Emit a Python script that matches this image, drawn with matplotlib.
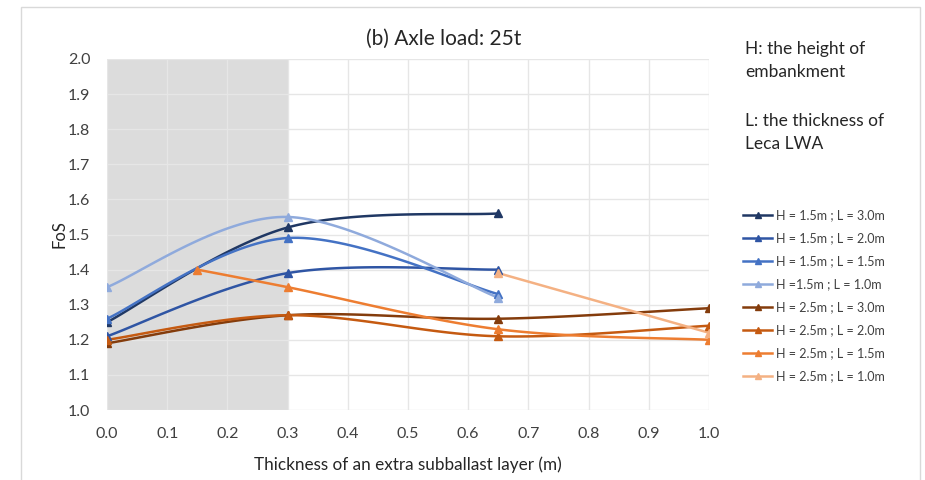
import numpy as np
import matplotlib
matplotlib.use("Agg")
import matplotlib.pyplot as plt
from matplotlib.patches import Rectangle

plt.rcParams['font.family'] = ['Lato', 'DejaVu Sans']

# ---- data ----
x_h15 = [0.0, 0.3, 0.65]
fos_h15_l30 = [1.25, 1.52, 1.56]
fos_h15_l20 = [1.21, 1.39, 1.40]
fos_h15_l15 = [1.26, 1.49, 1.33]
fos_h15_l10 = [1.35, 1.55, 1.32]

x_h25 = [0.0, 0.3, 0.65, 1.0]
fos_h25_l30 = [1.19, 1.27, 1.26, 1.29]
fos_h25_l20 = [1.20, 1.27, 1.21, 1.24]
x_h25_l15 = [0.15, 0.3, 0.65, 1.0]
fos_h25_l15 = [1.40, 1.35, 1.23, 1.20]
x_h25_l10 = [0.65, 1.0]
fos_h25_l10 = [1.39, 1.22]

labels = ["H = 1.5m ; L = 3.0m", "H = 1.5m ; L = 2.0m", "H = 1.5m ; L = 1.5m",
          "H =1.5m ; L = 1.0m", "H = 2.5m ; L = 3.0m", "H = 2.5m ; L = 2.0m",
          "H = 2.5m ; L = 1.5m", "H = 2.5m ; L = 1.0m"]
colors = ["#203864", "#2f55a4", "#4472c4", "#8faadc",
          "#843c0c", "#c55a11", "#ed7d31", "#f4b183"]
series = [(x_h15, fos_h15_l30), (x_h15, fos_h15_l20), (x_h15, fos_h15_l15),
          (x_h15, fos_h15_l10), (x_h25, fos_h25_l30), (x_h25, fos_h25_l20),
          (x_h25_l15, fos_h25_l15), (x_h25_l10, fos_h25_l10)]

x_ticks = [round(0.1 * i, 1) for i in range(11)]
y_ticks = [round(1.0 + 0.1 * i, 1) for i in range(11)]
shade_range = (0.0, 0.3)


def smooth(xs, ys, n=40):
    """Excel-like smoothed line (cubic Bezier with Catmull-Rom control points)."""
    P = np.column_stack([xs, ys]).astype(float)
    if len(P) < 3:
        return P[:, 0], P[:, 1]
    ext = np.vstack([P[0], P, P[-1]])
    out = []
    t = np.linspace(0, 1, n)[:, None]
    for i in range(len(P) - 1):
        p0, p1, p2, p3 = ext[i], ext[i + 1], ext[i + 2], ext[i + 3]
        c1 = p1 + (p2 - p0) / 6
        c2 = p2 - (p3 - p1) / 6
        seg = ((1 - t) ** 3) * p1 + 3 * ((1 - t) ** 2) * t * c1 + 3 * (1 - t) * t ** 2 * c2 + t ** 3 * p2
        out.append(seg if i == 0 else seg[1:])
    out = np.vstack(out)
    return out[:, 0], out[:, 1]


fig = plt.figure(figsize=(9.25, 4.8), dpi=100)
fig.patches.append(Rectangle((21 / 925, -0.05), (920 - 21) / 925, 1.05 - 7 / 480,
                             transform=fig.transFigure, fill=False,
                             edgecolor='#d9d9d9', linewidth=1.0))

ax = fig.add_axes([107 / 925, 1 - 410 / 480, (709 - 107) / 925, (410 - 59) / 480])
ax.axvspan(*shade_range, color='#dcdcdc', zorder=0, linewidth=0)
ax.set_xlim(0, 1.0)
ax.set_ylim(1.0, 2.0)
ax.set_xticks(x_ticks)
ax.set_yticks(y_ticks)
ax.set_xticklabels([f"{v:.1f}" for v in x_ticks])
ax.set_yticklabels([f"{v:.1f}" for v in y_ticks])
ax.grid(True, color='#e6e6e6', linewidth=1.0, zorder=0.5)
ax.set_axisbelow(True)
for s in ax.spines.values():
    s.set_visible(False)
ax.tick_params(length=0, labelsize=11.5, colors='#404040')
ax.tick_params(axis='x', pad=12)
ax.tick_params(axis='y', pad=12)

for (xs, ys), lab, c in zip(series, labels, colors):
    sx, sy = smooth(xs, ys)
    ax.plot(sx, sy, color=c, linewidth=1.8, zorder=3)
    ax.plot(xs, ys, linestyle='none', marker='^', markersize=6, color=c, zorder=4)
    ax.plot([], [], color=c, linewidth=1.8, marker='^', markersize=5, label=lab)

ax.set_title("(b) Axle load: 25t", fontsize=15, color='#262626', pad=10, x=0.56)
ax.set_xlabel("Thickness of an extra subballast layer (m)", fontsize=12.3,
              color='#262626', labelpad=11)
ax.set_ylabel("FoS", fontsize=12, color='#262626', labelpad=0)

fig.text(745 / 925, 1 - 41 / 480, "H: the height of\nembankment", fontsize=12.5,
         color='#262626', va='top', linespacing=1.55)
fig.text(745 / 925, 1 - 113 / 480, "L: the thickness of\nLeca LWA", fontsize=12.5,
         color='#262626', va='top', linespacing=1.55)

leg = ax.legend(loc='upper left', bbox_to_anchor=(732 / 925, 1 - 198 / 480),
                bbox_transform=fig.transFigure, frameon=False, fontsize=9,
                handlelength=2.3, handletextpad=0.3, labelspacing=0.88,
                labelcolor='#404040')

fig.savefig("out.png", dpi=100)
